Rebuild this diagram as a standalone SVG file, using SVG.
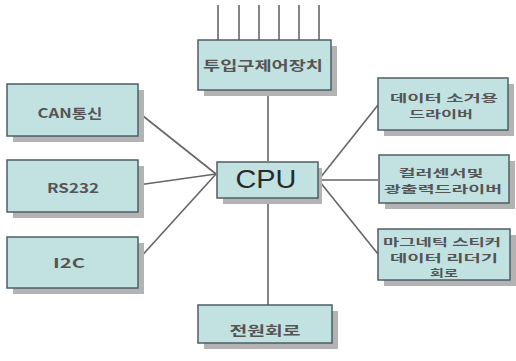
<svg xmlns="http://www.w3.org/2000/svg" width="516" height="361" viewBox="0 0 516 361">
<defs>
<style>
.box{fill:#c2e2e2;stroke:#4e5e66;stroke-width:1.5}
.sh{fill:#b3b3b3}
.t{font-family:"Noto Sans CJK KR","Liberation Sans",sans-serif;font-size:13px;font-weight:bold;fill:#555;text-anchor:middle}
.s{font-size:10.5px}
.big{font-family:"Liberation Sans",sans-serif;font-size:25px;fill:#2a2a2a;text-anchor:middle}
.ln{stroke:#666;stroke-width:1.6;fill:none}
</style>
</defs>
<rect width="516" height="361" fill="#fff"/>
<g id="connectors">
<line class="ln" x1="218" y1="5" x2="218" y2="40"/>
<line class="ln" x1="239" y1="5" x2="239" y2="40"/>
<line class="ln" x1="259" y1="5" x2="259" y2="40"/>
<line class="ln" x1="279" y1="5" x2="279" y2="40"/>
<line class="ln" x1="299" y1="5" x2="299" y2="40"/>
<line class="ln" x1="319" y1="5" x2="319" y2="40"/>
<line class="ln" x1="268" y1="90" x2="268" y2="161"/>
<line class="ln" x1="268" y1="198" x2="268" y2="305"/>
<line class="ln" x1="138" y1="112" x2="216" y2="174"/>
<line class="ln" x1="138" y1="185" x2="216" y2="174"/>
<line class="ln" x1="138" y1="260" x2="216" y2="174"/>
<line class="ln" x1="320" y1="178" x2="378" y2="105"/>
<line class="ln" x1="320" y1="180" x2="378" y2="180"/>
<line class="ln" x1="320" y1="182" x2="378" y2="254"/>
</g>
<g id="top">
<rect class="sh" x="204" y="46" width="133" height="50"/>
<rect class="box" x="198" y="40" width="133" height="50"/>
<text class="t" x="263" y="70" textLength="120" lengthAdjust="spacingAndGlyphs">투입구제어장치</text>
</g>
<g id="cpu">
<rect class="sh" x="223" y="168" width="99" height="36"/>
<rect class="box" x="217" y="162" width="101" height="36"/>
<text class="big" x="266" y="188" textLength="61" lengthAdjust="spacingAndGlyphs">CPU</text>
</g>
<g id="can">
<rect class="sh" x="13" y="90" width="131" height="52"/>
<rect class="box" x="7" y="84" width="131" height="52"/>
<text class="t" x="70" y="118" textLength="65" lengthAdjust="spacingAndGlyphs">CAN통신</text>
</g>
<g id="rs232">
<rect class="sh" x="13" y="166" width="131" height="52"/>
<rect class="box" x="7" y="160" width="131" height="52"/>
<text class="t" x="73" y="193" textLength="52" lengthAdjust="spacingAndGlyphs">RS232</text>
</g>
<g id="i2c">
<rect class="sh" x="13" y="243" width="131" height="51"/>
<rect class="box" x="7" y="237" width="131" height="51"/>
<text class="t" x="69" y="268" textLength="32" lengthAdjust="spacingAndGlyphs">I2C</text>
</g>
<g id="power">
<rect class="sh" x="204" y="311" width="134" height="38"/>
<rect class="box" x="198" y="305" width="134" height="38"/>
<text class="t" x="265" y="335" textLength="71" lengthAdjust="spacingAndGlyphs">전원회로</text>
</g>
<g id="erase">
<rect class="sh" x="384" y="84" width="130" height="52"/>
<rect class="box" x="378" y="78" width="130" height="52"/>
<text class="t s" x="444" y="102" textLength="108" lengthAdjust="spacingAndGlyphs">데이터 소거용</text>
<text class="t s" x="441" y="117.5" textLength="64" lengthAdjust="spacingAndGlyphs">드라이버</text>
</g>
<g id="color">
<rect class="sh" x="385" y="161" width="130" height="48"/>
<rect class="box" x="379" y="155" width="130" height="48"/>
<text class="t s" x="441" y="177" textLength="85" lengthAdjust="spacingAndGlyphs">컬러센서및</text>
<text class="t s" x="443" y="192.5" textLength="118" lengthAdjust="spacingAndGlyphs">광출력드라이버</text>
</g>
<g id="magnetic">
<rect class="sh" x="384" y="235" width="132" height="51"/>
<rect class="box" x="378" y="229" width="132" height="51"/>
<text class="t s" x="442" y="246" textLength="118" lengthAdjust="spacingAndGlyphs">마그네틱 스티커</text>
<text class="t s" x="444" y="261.5" textLength="108" lengthAdjust="spacingAndGlyphs">데이터 리더기</text>
<text class="t s" x="444" y="277" textLength="28" lengthAdjust="spacingAndGlyphs">회로</text>
</g>
</svg>
